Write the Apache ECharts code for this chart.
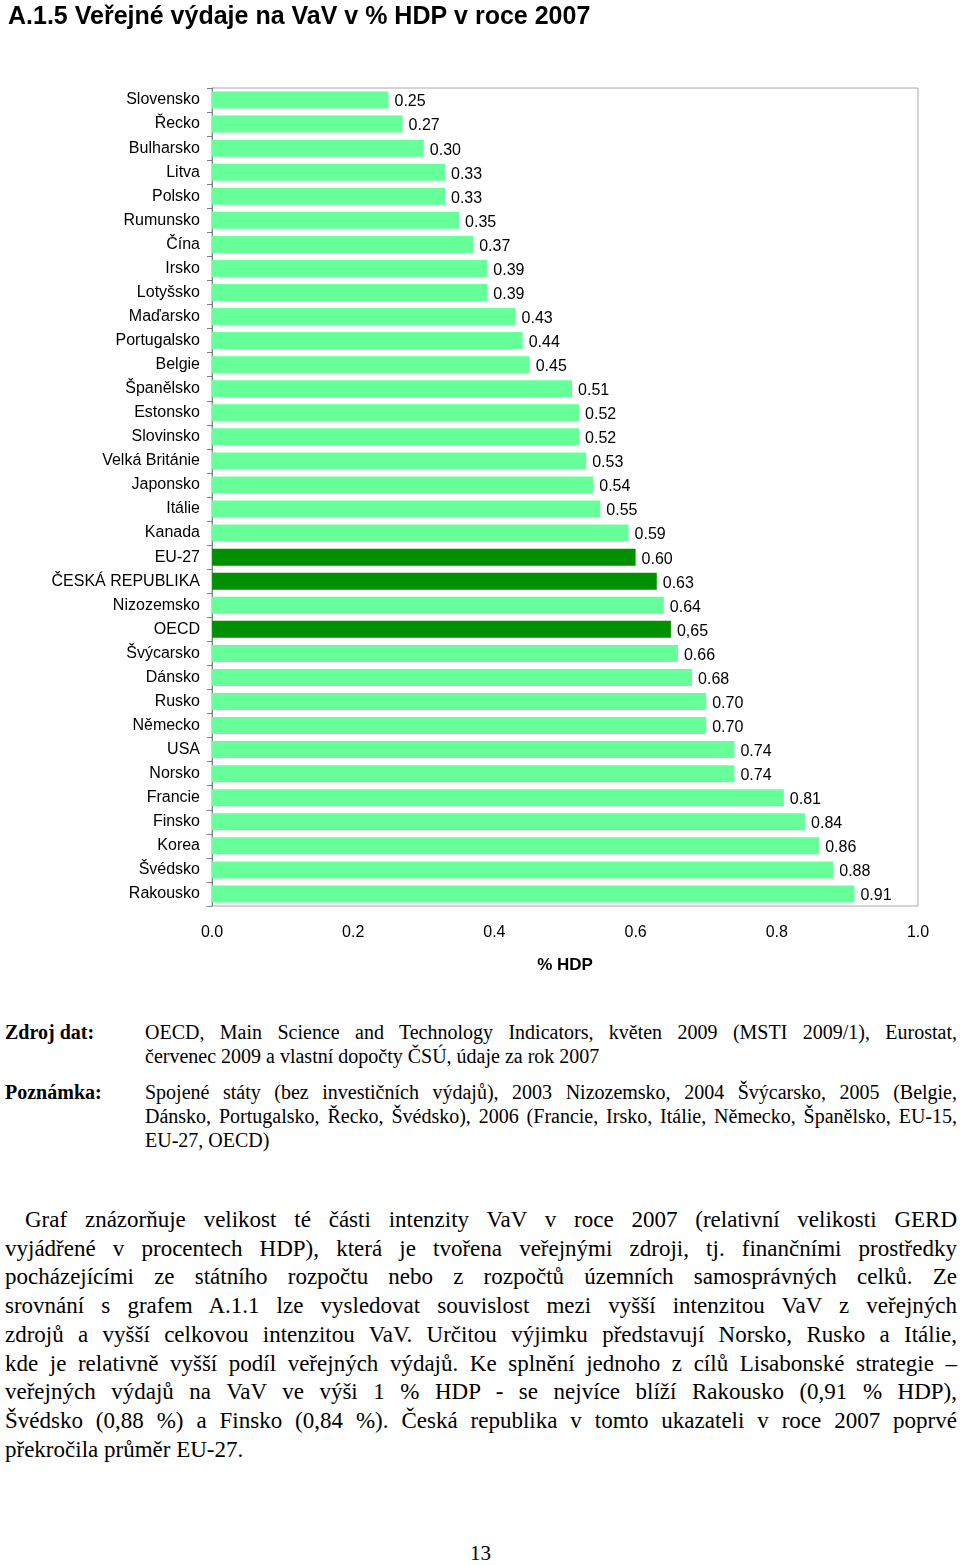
<!DOCTYPE html>
<html>
<head>
<meta charset="utf-8">
<script src="https://cdn.jsdelivr.net/npm/echarts@6/dist/echarts.min.js"></script>
<style>
html,body{margin:0;padding:0;background:#fff;}
body{width:960px;height:1565px;position:relative;overflow:hidden;}
#chart{position:absolute;left:0;top:0;width:960px;height:1000px;}
.serif{font-family:"Liberation Serif","DejaVu Serif",serif;color:#000;}
.lbl{position:absolute;left:5px;font-weight:bold;font-size:20px;line-height:24px;}
.blk{position:absolute;left:145px;width:812px;font-size:20px;line-height:24px;}
.par{position:absolute;left:5px;width:952px;font-size:23px;line-height:28.7px;}
.j,.l{white-space:nowrap;text-align:left;}
.j span,.l span{white-space:nowrap;display:inline-block;}
</style>
</head>
<body>
<div id="chart"></div>

<div class="serif lbl" style="top:1020px;">Zdroj dat:</div>
<div class="serif blk" style="top:1020px;">
<div class="j">OECD, Main Science and Technology Indicators, květen 2009 (MSTI 2009/1), Eurostat,</div>
<div class="l">červenec 2009 a vlastní dopočty ČSÚ, údaje za rok 2007</div>
</div>

<div class="serif lbl" style="top:1080px;">Poznámka:</div>
<div class="serif blk" style="top:1080px;">
<div class="j">Spojené státy (bez investičních výdajů), 2003 Nizozemsko, 2004 Švýcarsko, 2005 (Belgie,</div>
<div class="j">Dánsko, Portugalsko, Řecko, Švédsko), 2006 (Francie, Irsko, Itálie, Německo, Španělsko, EU-15,</div>
<div class="l">EU-27, OECD)</div>
</div>

<div class="serif par" style="top:1206px;">
<div class="j" data-indent="20">Graf znázorňuje velikost té části intenzity VaV v roce 2007 (relativní velikosti GERD</div>
<div class="j">vyjádřené v procentech HDP), která je tvořena veřejnými zdroji, tj. finančními prostředky</div>
<div class="j">pocházejícími ze státního rozpočtu nebo z rozpočtů územních samosprávných celků. Ze</div>
<div class="j">srovnání s grafem A.1.1 lze vysledovat souvislost mezi vyšší intenzitou VaV z veřejných</div>
<div class="j">zdrojů a vyšší celkovou intenzitou VaV. Určitou výjimku představují Norsko, Rusko a Itálie,</div>
<div class="j">kde je relativně vyšší podíl veřejných výdajů. Ke splnění jednoho z cílů Lisabonské strategie –</div>
<div class="j">veřejných výdajů na VaV ve výši 1 % HDP - se nejvíce blíží Rakousko (0,91 % HDP),</div>
<div class="j">Švédsko (0,88 %) a Finsko (0,84 %). Česká republika v tomto ukazateli v roce 2007 poprvé</div>
<div class="l">překročila průměr EU-27.</div>
</div>

<div class="serif" style="position:absolute;left:470px;top:1541px;font-size:21px;line-height:24px;">13</div>

<script>
var categories = ['Slovensko','Řecko','Bulharsko','Litva','Polsko','Rumunsko','Čína','Irsko','Lotyšsko','Maďarsko','Portugalsko','Belgie','Španělsko','Estonsko','Slovinsko','Velká Británie','Japonsko','Itálie','Kanada','EU-27','ČESKÁ REPUBLIKA','Nizozemsko','OECD','Švýcarsko','Dánsko','Rusko','Německo','USA','Norsko','Francie','Finsko','Korea','Švédsko','Rakousko'];
var values = [0.25,0.27,0.30,0.33,0.33,0.35,0.37,0.39,0.39,0.43,0.44,0.45,0.51,0.52,0.52,0.53,0.54,0.55,0.59,0.60,0.63,0.64,0.65,0.66,0.68,0.70,0.70,0.74,0.74,0.81,0.84,0.86,0.88,0.91];
var valueLabels = ['0.25','0.27','0.30','0.33','0.33','0.35','0.37','0.39','0.39','0.43','0.44','0.45','0.51','0.52','0.52','0.53','0.54','0.55','0.59','0.60','0.63','0.64','0,65','0.66','0.68','0.70','0.70','0.74','0.74','0.81','0.84','0.86','0.88','0.91'];
var highlighted = ['EU-27','ČESKÁ REPUBLIKA','OECD'];
var xTicks = [0,0.2,0.4,0.6,0.8,1.0];

// justify each line explicitly via word-spacing (or shrink if too long)
(function(){
  var lines = document.querySelectorAll('.j');
  for (var i=0;i<lines.length;i++){
    var el = lines[i];
    var indent = parseFloat(el.getAttribute('data-indent')||'0');
    var box = el.parentNode.clientWidth - indent;
    var txt = el.textContent.trim();
    el.textContent = '';
    var s = document.createElement('span');
    s.textContent = txt;
    el.appendChild(s);
    el.style.paddingLeft = indent+'px';
    var w = s.getBoundingClientRect().width;
    var n = (txt.match(/ /g)||[]).length;
    if (w < box && n>0){
      s.style.wordSpacing = ((box - w)/n)+'px';
    } else if (w > box){
      s.style.transformOrigin='0 0';
      s.style.transform='scaleX('+(box/w)+')';
    }
  }
})();

var LIGHT = '#66FF99', DARK = '#009000';
var chart = echarts.init(document.getElementById('chart'));
var font = '"Liberation Sans", Arial, sans-serif';
chart.setOption({
  animation:false,
  backgroundColor:'#fff',
  textStyle:{fontFamily:font},
  title:{text:'A.1.5 Veřejné výdaje na VaV v % HDP v roce 2007',left:3,top:0,
    textStyle:{fontFamily:font,fontSize:25,fontWeight:'bold',color:'#000'}},
  grid:{left:212,top:88,width:706,height:818,show:true,borderColor:'#a8a8a8',borderWidth:1,containLabel:false},
  xAxis:{type:'value',min:xTicks[0],max:xTicks[xTicks.length-1],interval:0.2,
    axisLine:{show:false},axisTick:{show:false},splitLine:{show:false},
    axisLabel:{margin:19,fontSize:16,color:'#000',fontFamily:font,formatter:function(v){return v.toFixed(1);}},
    name:'% HDP',nameLocation:'middle',nameGap:51,
    nameTextStyle:{fontSize:17,fontWeight:'bold',color:'#000',fontFamily:font}},
  yAxis:{type:'category',data:categories,inverse:true,
    axisLine:{show:true,lineStyle:{color:'#808080',width:1}},
    axisTick:{show:true,length:5,lineStyle:{color:'#808080'}},
    axisLabel:{margin:12,fontSize:16,color:'#000',fontFamily:font,interval:0}},
  series:[{type:'bar',barWidth:17,
    data:values.map(function(v,i){return {value:v,itemStyle:{color:highlighted.indexOf(categories[i])>=0?DARK:LIGHT}};}),
    label:{show:true,position:'right',distance:6,offset:[0,2],fontSize:16,color:'#000',fontFamily:font,
      formatter:function(p){return valueLabels[p.dataIndex];}}
  }]
});
</script>
</body>
</html>
